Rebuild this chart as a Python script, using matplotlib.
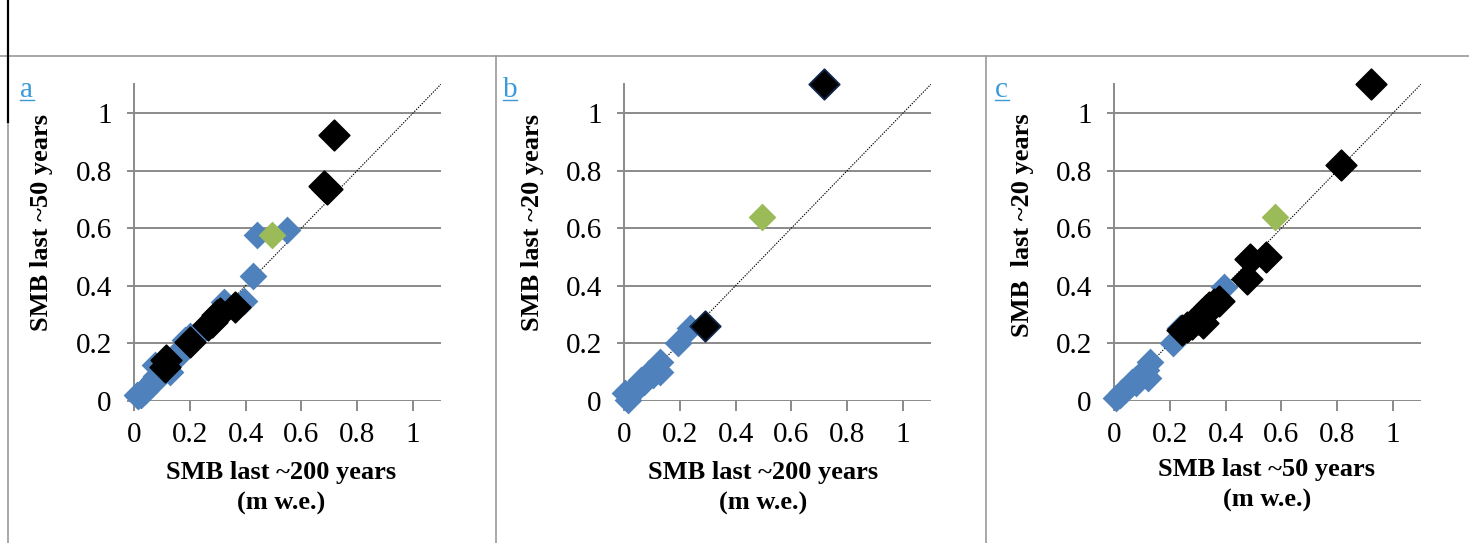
import matplotlib
matplotlib.use("Agg")
import matplotlib.pyplot as plt
from matplotlib.lines import Line2D

plt.rcParams['font.family'] = ['Liberation Serif', 'DejaVu Serif']

W, H = 1469, 543

# panel a: SMB last ~200 years (x) vs last ~50 years (y)
a_blue_x = [0.01, 0.015, 0.02, 0.025, 0.03, 0.035, 0.04, 0.045, 0.05, 0.055, 0.06, 0.065,
            0.07, 0.075, 0.08, 0.074, 0.09, 0.1, 0.128, 0.152, 0.165, 0.182, 0.2, 0.236,
            0.25, 0.323, 0.394, 0.428, 0.44, 0.547]
a_blue_y = [0.02, 0.015, 0.025, 0.02, 0.03, 0.035, 0.035, 0.045, 0.05, 0.055, 0.06, 0.06,
            0.075, 0.07, 0.085, 0.124, 0.09, 0.095, 0.1, 0.147, 0.176, 0.211, 0.225, 0.24,
            0.25, 0.344, 0.348, 0.433, 0.577, 0.594]
a_black_x = [0.11, 0.116, 0.2, 0.266, 0.28, 0.296, 0.308, 0.362, 0.679, 0.69, 0.717]
a_black_y = [0.118, 0.142, 0.205, 0.263, 0.275, 0.298, 0.304, 0.327, 0.745, 0.735, 0.922]
a_green_x = [0.493]
a_green_y = [0.577]

# panel b: SMB last ~200 years (x) vs last ~20 years (y)
b_blue_x = [0.014, 0.003, 0.02, 0.03, 0.04, 0.056, 0.062, 0.07, 0.08, 0.09, 0.104, 0.115,
            0.128, 0.128, 0.194, 0.236]
b_blue_y = [0.002, 0.026, 0.02, 0.037, 0.045, 0.055, 0.072, 0.065, 0.078, 0.095, 0.09, 0.11,
            0.1, 0.136, 0.2, 0.254]
b_black_x = [0.29, 0.717]
b_black_y = [0.26, 1.099]
b_green_x = [0.493]
b_green_y = [0.637]

# panel c: SMB last ~50 years (x) vs last ~20 years (y)
c_blue_x = [0.008, 0.02, 0.03, 0.04, 0.056, 0.065, 0.074, 0.08, 0.092, 0.105, 0.116, 0.122,
            0.128, 0.212, 0.236, 0.395]
c_blue_y = [0.008, 0.02, 0.03, 0.037, 0.055, 0.065, 0.072, 0.06, 0.089, 0.095, 0.107, 0.078,
            0.136, 0.2, 0.252, 0.394]
c_black_x = [0.245, 0.26, 0.28, 0.3, 0.315, 0.33, 0.34, 0.32, 0.36, 0.377, 0.475, 0.487,
             0.545, 0.814, 0.921]
c_black_y = [0.245, 0.255, 0.265, 0.285, 0.3, 0.315, 0.325, 0.27, 0.335, 0.348, 0.422, 0.492,
             0.499, 0.818, 1.099]
c_green_x = [0.577]
c_green_y = [0.637]

ticks = [0, 0.2, 0.4, 0.6, 0.8, 1]
tick_labels = ['0', '0.2', '0.4', '0.6', '0.8', '1']

panels = [
    dict(letter='a', left=134, bx=a_blue_x, by=a_blue_y, kx=a_black_x, ky=a_black_y,
         gx=a_green_x, gy=a_green_y, edge='black',
         ylabel='SMB last ~50 years', yl=(42, 222),
         xlabel='SMB last ~200 years\n(m w.e.)', xl=(281, 488), lx=20),
    dict(letter='b', left=624, bx=b_blue_x, by=b_blue_y, kx=b_black_x, ky=b_black_y,
         gx=b_green_x, gy=b_green_y, edge='#10254a',
         ylabel='SMB last ~20 years', yl=(532, 222),
         xlabel='SMB last ~200 years\n(m w.e.)', xl=(763, 488), lx=503),
    dict(letter='c', left=1114, bx=c_blue_x, by=c_blue_y, kx=c_black_x, ky=c_black_y,
         gx=c_green_x, gy=c_green_y, edge='black',
         ylabel='SMB  last ~20 years', yl=(1022, 225),
         xlabel='SMB last ~50 years\n(m w.e.)', xl=(1267, 485), lx=995),
]

fig = plt.figure(figsize=(W / 100, H / 100), dpi=100)
grey = '#8a8a8a'

# table borders of the document
line_col = '#9a9a9a'
fig.add_artist(Line2D([0, 1], [1 - 55.5 / H, 1 - 55.5 / H], color=line_col, lw=1.2))
for xv in [8, 496, 986]:
    fig.add_artist(Line2D([xv / W, xv / W], [0, 1 - 55.5 / H], color=line_col, lw=1.2))
fig.add_artist(Line2D([8 / W, 8 / W], [1, 1 - 122 / H], color='black', lw=1.6))

for p in panels:
    ax = fig.add_axes([p['left'] / W, 1 - 400.7 / H, 307 / W, 316.5 / H])
    ax.set_xlim(0, 1.1)
    ax.set_ylim(0, 1.1)
    for yv in ticks:
        ax.axhline(yv, color=grey, lw=1.4, zorder=1)
    ax.plot([0, 1.1], [0, 1.1], color='black', ls=(0, (1.2, 1.2)), lw=0.8, zorder=2)
    ax.scatter(p['bx'], p['by'], marker='D', s=200, color='#4f81bd', linewidths=0,
               zorder=3, clip_on=False)
    ax.scatter(p['kx'], p['ky'], marker='D', s=240, color='black', edgecolors=p['edge'],
               linewidths=1.3, zorder=4, clip_on=False)
    ax.scatter(p['gx'], p['gy'], marker='D', s=200, color='#9bbb59', linewidths=0,
               zorder=5, clip_on=False)
    for s in ['top', 'right', 'bottom']:
        ax.spines[s].set_visible(False)
    ax.spines['left'].set_color(grey)
    ax.spines['left'].set_linewidth(1.4)
    ax.set_xticks(ticks)
    ax.set_xticklabels(tick_labels)
    ax.set_yticks(ticks)
    ax.set_yticklabels(tick_labels)
    ax.tick_params(axis='x', length=7, width=1.4, color=grey, pad=8, labelsize=21)
    ax.tick_params(axis='y', length=5, width=1.4, color=grey, pad=11, labelsize=21)

    fig.text(p['yl'][0] / W, 1 - p['yl'][1] / H, p['ylabel'], rotation=90,
             ha='center', va='center', fontsize=19, fontweight='bold')
    fig.text(p['xl'][0] / W, 1 - p['xl'][1] / H, p['xlabel'], ha='center', va='center',
             fontsize=19, fontweight='bold', linespacing=1.4)
    fig.text(p['lx'] / W, 1 - 97 / H, p['letter'], ha='left', va='baseline',
             fontsize=21, color='#3a9ad9')
    fig.add_artist(Line2D([p['lx'] / W, (p['lx'] + 14) / W], [1 - 100 / H, 1 - 100 / H],
                          color='#3a9ad9', lw=1.0))

fig.savefig('out.png', dpi=100)
